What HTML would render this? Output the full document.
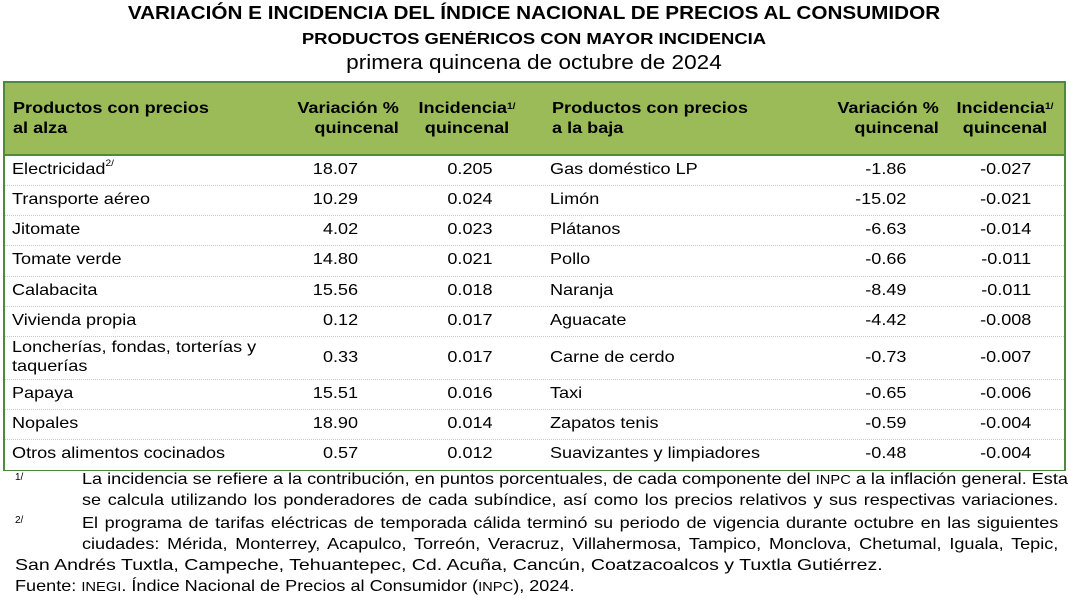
<!DOCTYPE html>
<html><head><meta charset="utf-8"><style>
body{margin:0;width:1068px;height:602px;background:#fff;font-family:"Liberation Sans",Arial,sans-serif;color:#000;position:relative;overflow:hidden}
.t{position:absolute;left:0;width:1068px;text-align:center;white-space:nowrap}
.tbl{position:absolute;left:3px;top:81px;width:1059px;height:387px;border:2px solid #4f8a3c;border-bottom:1px solid #4f8a3c}
.hd{position:absolute;left:0;top:0;width:100%;height:71px;background:#9bbb59;border-bottom:2px solid #4f8a3c}
.a{position:absolute;white-space:nowrap;font-size:16px;transform:scaleX(1.13);transform-origin:left center}
.b{font-weight:bold;line-height:20px}
.r{text-align:right;transform-origin:right center}
.c{text-align:center;transform-origin:center center}
.sep{position:absolute;left:0;width:100%;border-top:1px dotted #c8c8c8}
sup{font-size:9px;vertical-align:top;position:relative;top:-3px}
.fn{position:absolute;left:82px;width:864px;font-size:16px;line-height:21px;text-align:justify;text-align-last:justify;white-space:nowrap;transform:scaleX(1.13);transform-origin:left top}
.fs{position:absolute;left:15px;font-size:10px}
</style></head><body>
<div class="t" style="top:3px;font-size:18px;font-weight:bold;transform:scaleX(1.15)">VARIACIÓN E INCIDENCIA DEL ÍNDICE NACIONAL DE PRECIOS AL CONSUMIDOR</div>
<div class="t" style="top:31px;font-size:15.5px;font-weight:bold;transform:scaleX(1.19)">PRODUCTOS GENÉRICOS CON MAYOR INCIDENCIA</div>
<div class="t" style="top:52px;font-size:20px;transform:scaleX(1.13)">primera quincena de octubre de 2024</div>
<div class="tbl">
<div class="hd">
<div class="a b" style="left:8px;top:16px">Productos con precios<br>al alza</div>
<div class="a b r" style="right:665px;top:16px">Variación %<br>quincenal</div>
<div class="a b c" style="left:397px;width:130px;top:16px">Incidencia<sup>1/</sup><br>quincenal</div>
<div class="a b" style="left:547px;top:16px">Productos con precios<br>a la baja</div>
<div class="a b r" style="right:125px;top:16px">Variación %<br>quincenal</div>
<div class="a b c" style="left:935px;width:130px;top:16px">Incidencia<sup>1/</sup><br>quincenal</div>
</div>
</div>
<div id="rows"></div>
<div class="fs" style="top:472px">1/</div>
<div class="fn" style="top:469px">La incidencia se refiere a la contribución, en puntos porcentuales, de cada componente del <span style="font-size:13px">INPC</span> a la inflación general. Esta</div>
<div class="fn" style="top:490px">se calcula utilizando los ponderadores de cada subíndice, así como los precios relativos y sus respectivas variaciones.</div>
<div class="fs" style="top:515px">2/</div>
<div class="fn" style="top:513px">El programa de tarifas eléctricas de temporada cálida terminó su periodo de vigencia durante octubre en las siguientes</div>
<div class="fn" style="top:534px">ciudades: Mérida, Monterrey, Acapulco, Torreón, Veracruz, Villahermosa, Tampico, Monclova, Chetumal, Iguala, Tepic,</div>
<div class="fn" style="top:555px;left:15px;width:auto;text-align:left;text-align-last:left;transform:scaleX(1.22)">San Andrés Tuxtla, Campeche, Tehuantepec, Cd. Acuña, Cancún, Coatzacoalcos y Tuxtla Gutiérrez.</div>
<div class="fn" style="top:576px;left:15px;width:auto;text-align:left;text-align-last:left">Fuente: <span style="font-size:13px">INEGI</span>. Índice Nacional de Precios al Consumidor (<span style="font-size:13px">INPC</span>), 2024.</div>
<script>
var d=[["Electricidad<sup>2/</sup>","18.07","0.205","Gas doméstico LP","-1.86","-0.027"],
["Transporte aéreo","10.29","0.024","Limón","-15.02","-0.021"],
["Jitomate","4.02","0.023","Plátanos","-6.63","-0.014"],
["Tomate verde","14.80","0.021","Pollo","-0.66","-0.011"],
["Calabacita","15.56","0.018","Naranja","-8.49","-0.011"],
["Vivienda propia","0.12","0.017","Aguacate","-4.42","-0.008"],
["Loncherías, fondas, torterías y<br>taquerías","0.33","0.017","Carne de cerdo","-0.73","-0.007"],
["Papaya","15.51","0.016","Taxi","-0.65","-0.006"],
["Nopales","18.90","0.014","Zapatos tenis","-0.59","-0.004"],
["Otros alimentos cocinados","0.57","0.012","Suavizantes y limpiadores","-0.48","-0.004"]];
var tops=[155,185,215,245,276,306,336,379,409,439],h="";
for(var i=0;i<10;i++){var t=tops[i],hh=(i==6?43:30.5),cy=t+hh/2-9;
if(i>0)h+='<div class="sep" style="left:5px;width:1059px;top:'+t+'px"></div>';
var c1=i==6?'top:'+(t+2)+'px;line-height:19px':'top:'+cy+'px';
h+='<div class="a" style="left:12px;'+c1+'">'+d[i][0]+'</div>';
h+='<div class="a r" style="right:710px;top:'+cy+'px">'+d[i][1]+'</div>';
h+='<div class="a c" style="left:420px;width:100px;top:'+cy+'px">'+d[i][2]+'</div>';
h+='<div class="a" style="left:550px;top:'+cy+'px">'+d[i][3]+'</div>';
h+='<div class="a r" style="right:162px;top:'+cy+'px">'+d[i][4]+'</div>';
h+='<div class="a r" style="right:37px;top:'+cy+'px">'+d[i][5]+'</div>';}
document.getElementById('rows').innerHTML=h;
</script>
</body></html>
